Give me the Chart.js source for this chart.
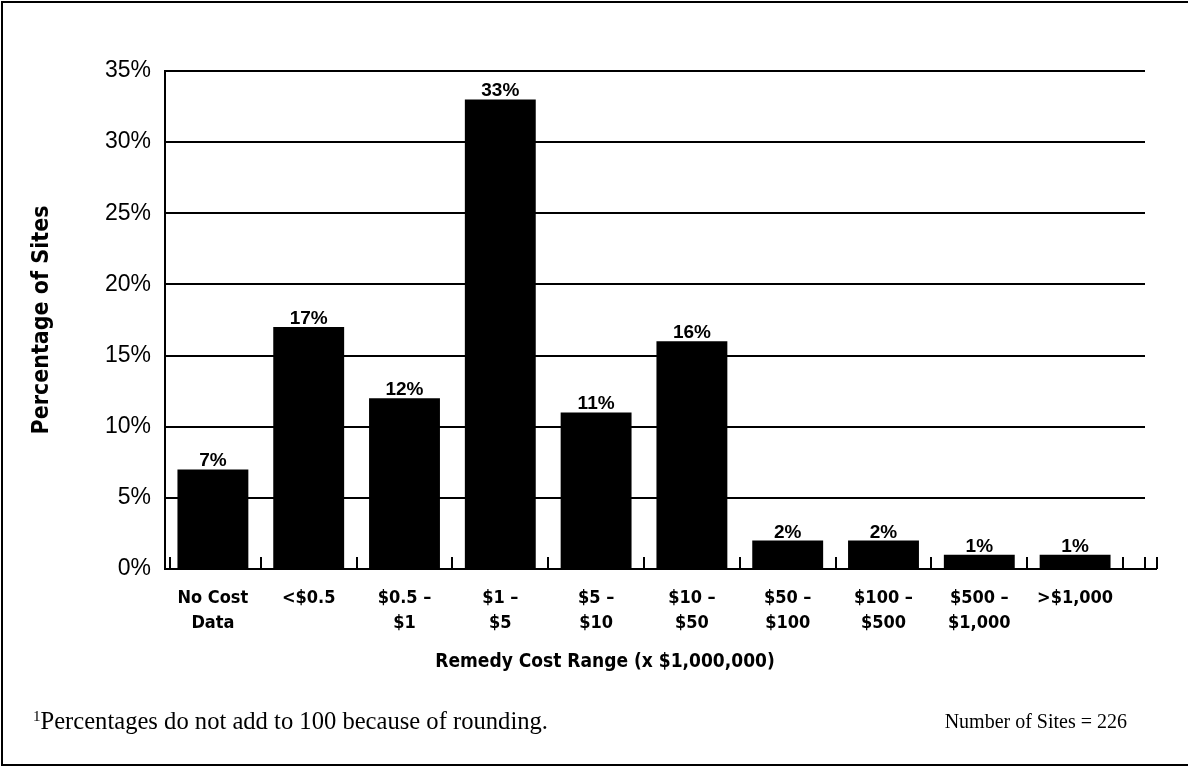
<!DOCTYPE html>
<html>
<head>
<meta charset="utf-8">
<script src="https://cdn.jsdelivr.net/npm/chart.js@4.4.1/dist/chart.umd.min.js"></script>
<style>
  html, body { margin: 0; padding: 0; background: #fff; }
  #wrap { position: relative; width: 1188px; height: 767px; overflow: hidden; }
  #c { position: absolute; left: 0; top: 0; }
  .note { position: absolute; font-family: 'Liberation Serif', 'Times New Roman', serif; color: #000; white-space: nowrap; line-height: 1; }
  #n1 { left: 33px; top: 709px; font-size: 24.6px; }
  #n1 sup { font-size: 15px; vertical-align: 0; position: relative; top: -8px; }
  #n2 { right: 61px; top: 711px; font-size: 20px; }
</style>
</head>
<body>
<div id="wrap">
  <canvas id="c" width="1188" height="767"></canvas>
  <div class="note" id="n1"><sup>1</sup>Percentages do not add to 100 because of rounding.</div>
  <div class="note" id="n2">Number of Sites = 226</div>
</div>
<script>
const categories = [
  ['No Cost', 'Data'],
  ['<$0.5'],
  ['$0.5 \u2013', '$1'],
  ['$1 \u2013', '$5'],
  ['$5 \u2013', '$10'],
  ['$10 \u2013', '$50'],
  ['$50 \u2013', '$100'],
  ['$100 \u2013', '$500'],
  ['$500 \u2013', '$1,000'],
  ['>$1,000']
];
const percentSites = [7, 17, 12, 33, 11, 16, 2, 2, 1, 1];
const yTickMax = 35;
const yTickStep = 5;
const xAxisTitle = 'Remedy Cost Range (x $1,000,000)';
const yAxisTitle = 'Percentage of Sites';

const NARROW = "'Liberation Sans Narrow', 'Arial Narrow', 'DejaVu Sans Condensed', sans-serif";
const SANS = "'Liberation Sans', Arial, Helvetica, sans-serif";

const extras = {
  id: 'extras',
  beforeDraw(chart) {
    const ctx = chart.ctx;
    ctx.save();
    ctx.fillStyle = '#fff';
    ctx.fillRect(0, 0, chart.width, chart.height);
    ctx.strokeStyle = '#000';
    ctx.lineWidth = 2;
    ctx.beginPath();
    ctx.moveTo(chart.width, 2);
    ctx.lineTo(2, 2);
    ctx.lineTo(2, chart.height - 2);
    ctx.lineTo(chart.width, chart.height - 2);
    ctx.stroke();
    ctx.restore();
  },
  beforeDatasetsDraw(chart) {
    const ctx = chart.ctx;
    const y = chart.scales.y;
    const a = chart.chartArea;
    ctx.save();
    ctx.strokeStyle = '#000';
    ctx.lineWidth = 2;
    y.ticks.forEach(t => {
      const py = Math.round(y.getPixelForValue(t.value));
      ctx.beginPath();
      ctx.moveTo(a.left, py);
      ctx.lineTo(t.value === 0 ? a.right + 34 : a.right + 22, py);
      ctx.stroke();
    });
    ctx.restore();
  },
  afterDatasetsDraw(chart) {
    const ctx = chart.ctx;
    const x = chart.scales.x;
    const a = chart.chartArea;
    const meta = chart.getDatasetMeta(0);
    ctx.save();
    ctx.strokeStyle = '#000';
    ctx.lineWidth = 2;
    const n = percentSites.length;
    const half = (x.getPixelForValue(1) - x.getPixelForValue(0)) / 2;
    const tickXs = [a.left + 5];
    for (let i = 0; i < n; i++) tickXs.push(x.getPixelForValue(i) + half);
    tickXs.push(a.right + 22, a.right + 34);
    tickXs.forEach(px => {
      ctx.beginPath();
      ctx.moveTo(Math.round(px), a.bottom);
      ctx.lineTo(Math.round(px), a.bottom - 12);
      ctx.stroke();
    });
    ctx.fillStyle = '#000';
    ctx.font = 'bold 19px ' + SANS;
    ctx.textAlign = 'center';
    ctx.textBaseline = 'alphabetic';
    meta.data.forEach((bar, i) => {
      ctx.fillText(percentSites[i] + '%', bar.x, bar.y - 3);
    });
    ctx.restore();
  }
};

new Chart(document.getElementById('c'), {
  type: 'bar',
  data: {
    labels: categories,
    datasets: [{
      data: percentSites,
      backgroundColor: '#000',
      borderWidth: 0,
      barPercentage: 0.74,
      categoryPercentage: 1.0
    }]
  },
  options: {
    responsive: false,
    animation: false,
    events: [],
    layout: { padding: { left: 22, right: 0, top: 71, bottom: 93.2 } },
    plugins: {
      legend: { display: false },
      tooltip: { enabled: false },
      title: {
        display: true,
        position: 'bottom',
        text: xAxisTitle,
        color: '#000',
        font: { family: NARROW, size: 19, weight: 'bold', lineHeight: 1.2 },
        padding: { top: 10, bottom: 0 }
      }
    },
    scales: {
      x: {
        type: 'category',
        offset: true,
        grid: { display: false, drawTicks: false },
        border: { display: true, color: '#000', width: 2 },
        ticks: {
          color: '#000',
          font: { family: NARROW, size: 18, weight: 'bold', lineHeight: 1.38 },
          padding: 17,
          maxRotation: 0,
          minRotation: 0,
          autoSkip: false
        },
        afterFit(s) { s.height = 72; }
      },
      y: {
        min: 0,
        max: yTickMax,
        grid: { display: false, drawTicks: false },
        border: { display: true, color: '#000', width: 2 },
        ticks: {
          stepSize: yTickStep,
          color: '#000',
          font: { family: SANS, size: 23 },
          padding: 14,
          callback: v => v + '%'
        },
        title: {
          display: true,
          text: yAxisTitle,
          color: '#000',
          font: { family: NARROW, size: 23, weight: 'bold' },
          padding: { top: 6, bottom: 0 }
        },
        afterFit(s) { s.width = 143; }
      },
      y2: {
        position: 'right',
        display: true,
        grid: { display: false, drawTicks: false },
        border: { display: false },
        ticks: { display: false },
        afterFit(s) { s.width = 65; }
      }
    }
  },
  plugins: [extras]
});
</script>
</body>
</html>
